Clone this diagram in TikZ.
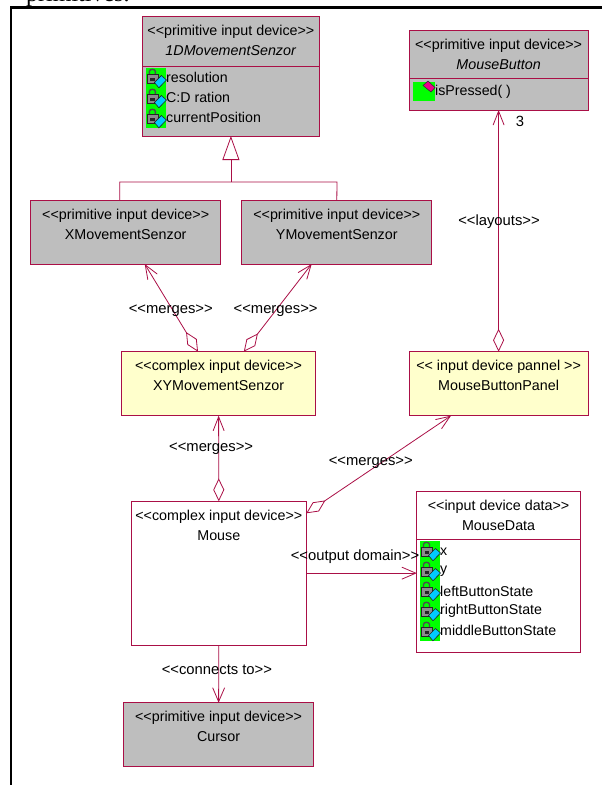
\documentclass[tikz,border=0pt]{standalone}
\usepackage{fontspec}
\setmainfont[Ligatures=TeXOff]{Liberation Sans}
\newfontfamily\pagefont{Liberation Serif}
\usetikzlibrary{arrows.meta}
\definecolor{umlred}{RGB}{170,15,70}
\definecolor{boxgray}{RGB}{190,190,190}
\definecolor{boxyellow}{RGB}{255,255,204}
\definecolor{icongreen}{RGB}{0,255,0}
\definecolor{iconblue}{RGB}{0,204,255}
\tikzset{
  classbox/.style={draw=umlred, line width=0.9pt, rectangle, align=center, inner sep=0pt, outer sep=0pt, font=\fontsize{14.3}{20}\selectfont, text height=39pt, text depth=25pt},
  primbox/.style={classbox, fill=boxgray},
  compbox/.style={classbox, fill=boxyellow},
  plainbox/.style={classbox, fill=white},
  rowbox/.style={draw=umlred, line width=0.9pt, rectangle, inner sep=0pt, outer sep=0pt},
  rowtext/.style={anchor=west, inner sep=0pt, font=\fontsize{14.2}{20}\selectfont},
  linktext/.style={inner sep=0pt, font=\fontsize{14.8}{20}\selectfont},
  link/.style={draw=umlred, line width=0.8pt},
  aggr/.style={link, {Diamond[open, length=23pt, width=11pt]}-{Straight Barb[length=14pt, width=11pt]}},
  navi/.style={link, -{Straight Barb[length=14pt, width=12pt]}},
  inherit/.style={link, -{Triangle[open, length=24pt, width=17pt]}},
  lockicon/.pic={
    \fill[icongreen] (0,0) rectangle (20,20);
    \draw[black!70, line width=1.4pt] (3.5,7) -- (3.5,3.5) .. controls (3.5,0.6) and (9.5,0.6) .. (9.5,3.5) -- (9.5,7);
    \draw[black!85, fill=black!45, line width=0.7pt] (1,6.5) rectangle (12.5,15.5);
    \fill[black!85] (4.5,9.5) rectangle (9,12.5);
    \draw[black!85, fill=iconblue, line width=0.6pt] (8.5,14.5) -- (15.5,7.5) -- (20.5,12) -- (13,19.8) -- cycle;
  }
}
\begin{document}
\begin{tikzpicture}[x=1pt, y=-1pt]
\clip (0,0) rectangle (602,785);
\fill[white] (0,0) rectangle (602,785);
\node[anchor=base west, inner sep=0pt, font=\fontsize{24}{24}\pagefont] (pagetext) at (26,1.5) {primitives.};
\draw[black, line width=2.4pt] (10.7,800) -- (10.7,7.5) -- (610,7.5);

\node[primbox, anchor=north, minimum width=177pt, text depth=10.8pt] (box0) at (230.9,16.5) {<<primitive input device>>\\\textit{1DMovementSenzor}};
\node[rowbox, fill=boxgray, anchor=north, minimum width=177pt, minimum height=69.7pt] (attr0) at (box0.south) {};
\pic at (145.9,68) {lockicon};
\pic at (145.9,88) {lockicon};
\pic at (145.9,108) {lockicon};
\node[rowtext] (row0) at (166,77.7) {resolution};
\node[rowtext] (row1) at (166,97.7) {C:D ration};
\node[rowtext] (row2) at (166,117.7) {currentPosition};

\node[primbox, anchor=north, minimum width=179pt, text depth=9pt] (box1) at (498.6,30.5) {<<primitive input device>>\\\textit{MouseButton}};
\node[rowbox, fill=boxgray, anchor=north, minimum width=179pt, minimum height=31.5pt] (attr1) at (box1.south) {};
\fill[icongreen] (413,81.7) rectangle (435,100.7);
\draw[black!80, fill=magenta, line width=0.6pt] (423,85.5) -- (428,81) -- (435,87.5) -- (431,92) -- cycle;
\node[rowtext] (row3) at (435,92) {isPressed( )};
\node[linktext] (num0) at (520,121.5) {3};

\node[primbox, anchor=north, minimum width=190pt] (box2) at (125.7,200) {<<primitive input device>>\\XMovementSenzor};
\node[primbox, anchor=north, minimum width=190pt] (box3) at (336.8,200) {<<primitive input device>>\\YMovementSenzor};
\node[compbox, anchor=north, minimum width=194pt] (box4) at (218.6,351.7) {<<complex input device>>\\XYMovementSenzor};
\node[compbox, anchor=north, minimum width=179pt] (box5) at (498.6,351.7) {<< input device pannel >>\\MouseButtonPanel};
\node[plainbox, anchor=north, minimum width=175pt, text depth=104.7pt] (box6) at (218.8,501.3) {<<complex input device>>\\Mouse};
\node[plainbox, anchor=north, minimum width=163.5pt, text depth=8.6pt] (box7) at (498.6,491.7) {<<input device data>>\\MouseData};
\node[rowbox, fill=white, anchor=north, minimum width=163.5pt, minimum height=113.4pt] (attr2) at (box7.south) {};
\pic at (420,541) {lockicon};
\pic at (420,561) {lockicon};
\pic at (420,581) {lockicon};
\pic at (420,601) {lockicon};
\pic at (420,621) {lockicon};
\node[rowtext] (row4) at (440,551.5) {x};
\node[rowtext] (row5) at (440,571) {y};
\node[rowtext] (row6) at (440,591) {leftButtonState};
\node[rowtext] (row7) at (440,611) {rightButtonState};
\node[rowtext] (row8) at (440,630) {middleButtonState};
\node[primbox, anchor=north, minimum width=190pt] (box8) at (218.6,702.7) {<<primitive input device>>\\Cursor};

\coordinate (joint1) at (119.8,182);
\coordinate (joint2) at (337,182);
\draw[inherit] (joint1 -| attr0.south) -- (attr0.south);
\draw[link] (joint1 |- box2.north) -- (joint1) -- (joint2) -- (box3.north);
\draw[aggr] ([xshift=-20.6pt]box4.north) -- ([xshift=19pt]box2.south);
\draw[aggr] ([xshift=25.2pt]box4.north) -- ([xshift=-25.1pt]box3.south);
\draw[aggr] (box5.north) -- (attr1.south);
\draw[aggr] (box6.north) -- (box4.south);
\draw[aggr] ([yshift=-12pt]box6.north east) -- ([xshift=-47.6pt]box5.south);
\draw[navi] (box6.east) -- (box6.east -| attr2.west);
\draw[navi] (box6.south) -- (box8.north);

\node[linktext] (lab0) at (170.8,310.5) {<<merges>>};
\node[linktext] (lab1) at (275.6,310.5) {<<merges>>};
\node[linktext] (lab2) at (211.1,448.5) {<<merges>>};
\node[linktext] (lab3) at (370.8,462.5) {<<merges>>};
\node[linktext] (lab4) at (499,221.5) {<<layouts>>};
\node[linktext] (lab5) at (355,556.5) {<<output domain>>};
\node[linktext] (lab6) at (216.9,670) {<<connects to>>};

\end{tikzpicture}
\end{document}
